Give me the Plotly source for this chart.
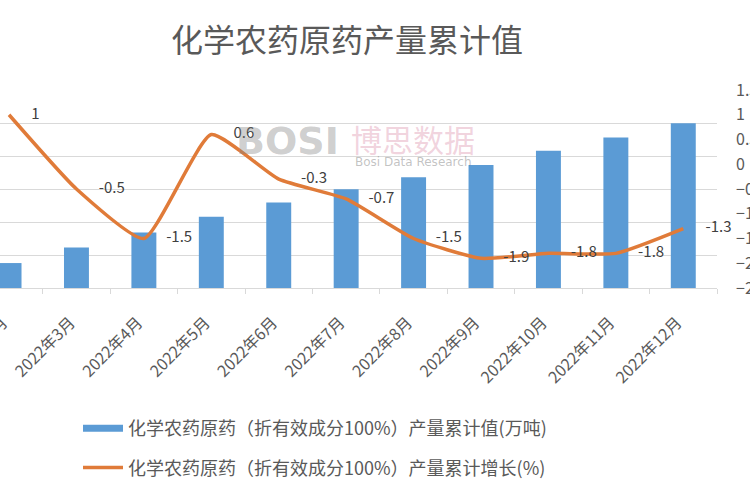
import plotly.graph_objects as go

months = ["2022年2月", "2022年3月", "2022年4月", "2022年5月", "2022年6月", "2022年7月",
          "2022年8月", "2022年9月", "2022年10月", "2022年11月", "2022年12月"]
output_cum = [37.8, 61.2, 84.1, 107.8, 129.7, 149.5, 167.8, 186.5, 207.9, 228.1, 249.7]
growth_cum = [1, -0.5, -1.5, 0.6, -0.3, -0.7, -1.5, -1.9, -1.8, -1.8, -1.3]
bar_name = "化学农药原药（折有效成分100%）产量累计值(万吨)"
line_name = "化学农药原药（折有效成分100%）产量累计增长(%)"
title_text = "化学农药原药产量累计值"

FONT = "Noto Sans CJK SC"
BLUE = "#5B9BD5"
ORANGE = "#E07B39"
GRAY = "#595959"

fig = go.Figure()

fig.add_trace(go.Bar(
    x=months, y=output_cum, name=bar_name, marker_color=BLUE,
    showlegend=False, yaxis="y",
))
fig.add_trace(go.Scatter(
    x=months, y=growth_cum, name=line_name, yaxis="y2",
    mode="lines+markers+text",
    line=dict(color=ORANGE, width=3.5, shape="spline", smoothing=0.5),
    marker=dict(size=34, color="rgba(0,0,0,0)"),
    text=[f"{v:g}" for v in growth_cum], textposition="middle right",
    textfont=dict(family=FONT, size=15, color="#404040"),
    showlegend=False, cliponaxis=False,
))
# legend entries
fig.add_trace(go.Scatter(x=[None], y=[None], name=bar_name, mode="lines",
                         line=dict(color=BLUE, width=7), legendgroup="a"))
fig.add_trace(go.Scatter(x=[None], y=[None], name=line_name, mode="lines",
                         line=dict(color=ORANGE, width=3.5), legendgroup="b"))

fig.update_layout(
    template="none",
    width=750, height=500,
    margin=dict(l=0, r=33, t=90, b=212, autoexpand=False),
    paper_bgcolor="white", plot_bgcolor="white",
    font=dict(family=FONT, color=GRAY),
    bargap=0.63,
    title=dict(text=title_text, x=347 / 750, xref="container", xanchor="center",
               y=1 - 41 / 500, yref="container", yanchor="middle",
               font=dict(family=FONT, size=32, color=GRAY)),
    xaxis=dict(type="category", range=[-0.134, 10.5], automargin=False,
               showgrid=False, showline=True, linecolor="#d9d9d9", linewidth=1,
               ticks="outside", tickson="boundaries", ticklen=5, tickcolor="#d9d9d9",
               tickangle=-45, ticklabelstandoff=18, ticklabelshift=-6,
               tickfont=dict(family=FONT, size=16, color=GRAY)),
    yaxis=dict(range=[0, 300], dtick=50, showgrid=True, gridcolor="#d9d9d9", gridwidth=1,
               showticklabels=False, zeroline=False, automargin=False, showline=False),
    yaxis2=dict(range=[-2.5, 1.5], dtick=0.5, overlaying="y", side="right",
                showgrid=False, zeroline=False, automargin=False, showline=False,
                ticklabelstandoff=18,
                tickfont=dict(family=FONT, size=16, color=GRAY)),
    legend=dict(xref="container", yref="container", x=78 / 750, y=1 - 410 / 500,
                xanchor="left", yanchor="top", orientation="v",
                tracegroupgap=13, itemwidth=40,
                font=dict(family=FONT, size=18, color=GRAY), bgcolor="rgba(0,0,0,0)"),
    annotations=[
        dict(text="<b>BOSI</b>", xref="paper", yref="paper", x=287 / 717, y=(288 - 141) / 198,
             xanchor="center", yanchor="middle",
             showarrow=False, font=dict(family="DejaVu Sans", size=38, color="rgba(130,130,130,0.4)")),
        dict(text="博思数据", xref="paper", yref="paper", x=413 / 717, y=(288 - 138) / 198,
             xanchor="center", yanchor="middle",
             showarrow=False, font=dict(family=FONT, size=31, color="rgba(215,130,160,0.35)")),
        dict(text="Bosi Data Research", xref="paper", yref="paper", x=413 / 717, y=(288 - 162) / 198,
             xanchor="center", yanchor="middle",
             showarrow=False, font=dict(family="DejaVu Sans", size=12, color="rgba(120,120,120,0.45)")),
    ],
)

fig.write_html("out.html")
